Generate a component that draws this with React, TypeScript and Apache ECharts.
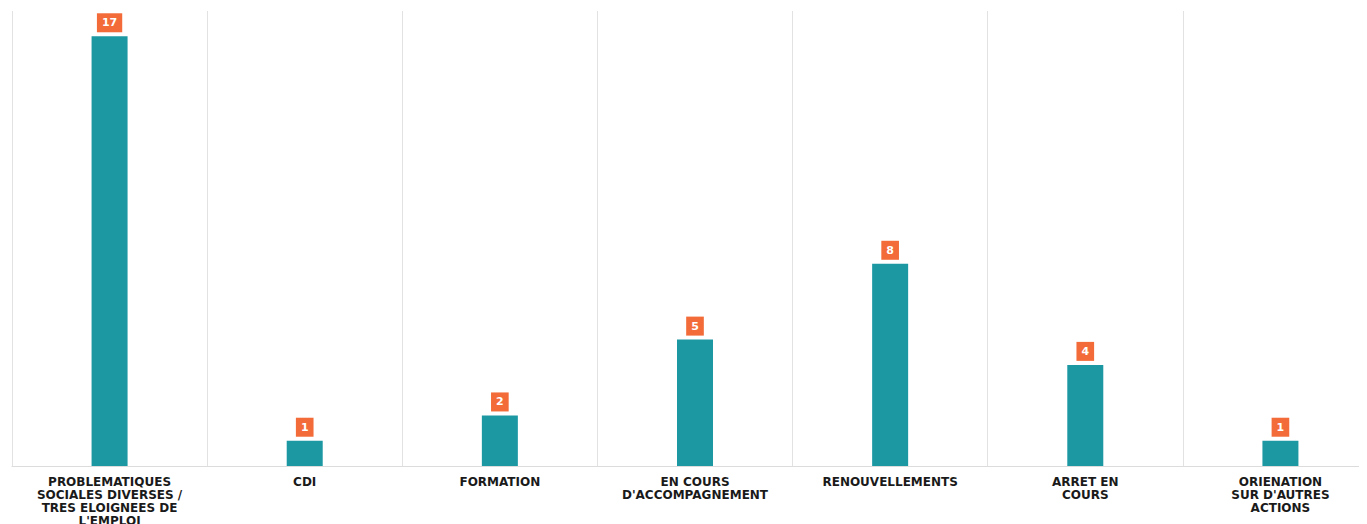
import React, { useEffect, useRef } from "react";
import * as echarts from "echarts";

const categories = [
  "PROBLEMATIQUES\nSOCIALES DIVERSES /\nTRES ELOIGNEES DE\nL'EMPLOI",
  "CDI",
  "FORMATION",
  "EN COURS\nD'ACCOMPAGNEMENT",
  "RENOUVELLEMENTS",
  "ARRET EN\nCOURS",
  "ORIENATION\nSUR D'AUTRES\nACTIONS",
];
const values = [17, 1, 2, 5, 8, 4, 1];

export default function App() {
  const ref = useRef<HTMLDivElement>(null);
  useEffect(() => {
    if (!ref.current) return;
    const chart = echarts.init(ref.current, undefined, { renderer: "svg" });
    chart.setOption({
      animation: false,
      grid: {
        left: 4,
        top: 3,
        width: 1366,
        height: 455,
        containLabel: false,
        outerBoundsMode: "none",
      },
      xAxis: {
        type: "category",
        data: categories,
        boundaryGap: true,
        axisLine: { show: true, lineStyle: { color: "#dcdcdc", width: 1 } },
        axisTick: { show: false },
        splitLine: { show: true, lineStyle: { color: "#e2e2e2", width: 1 } },
        axisLabel: {
          interval: 0,
          margin: 9,
          color: "#1a1a1a",
          fontFamily: "DejaVu Sans",
          fontWeight: "bold",
          fontSize: 12,
          lineHeight: 13,
          align: "center",
        },
      },
      yAxis: {
        type: "value",
        min: 0,
        max: 18,
        show: false,
        splitLine: { show: false },
      },
      series: [
        {
          type: "bar",
          data: values,
          barWidth: 36,
          itemStyle: { color: "#1c98a3" },
          label: {
            show: true,
            position: "top",
            distance: 4,
            color: "#ffffff",
            backgroundColor: "#f26b38",
            fontFamily: "DejaVu Sans",
            fontWeight: "bold",
            fontSize: 11,
            padding: [4, 5, 4, 5],
          },
        },
      ],
    });
    return () => chart.dispose();
  }, []);
  return <div ref={ref} style={{ width: 1359, height: 516 }} />;
}
